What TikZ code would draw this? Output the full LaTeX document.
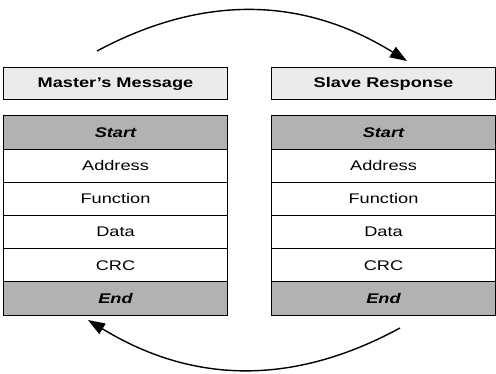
\documentclass[tikz,border=0pt]{standalone}
\usepackage{fontspec}
\setmainfont{Liberation Sans}[FakeStretch=1.3]
\usetikzlibrary{positioning}
\usetikzlibrary{arrows.meta}

\definecolor{headgray}{gray}{0.92}
\definecolor{markgray}{gray}{0.70}

\begin{document}
\begin{tikzpicture}[
    x=1pt, y=1pt,
    head/.style={draw, line width=1pt, fill=headgray, minimum width=224pt, minimum height=32pt, outer sep=0pt, font=\fontsize{14}{16}\selectfont\bfseries},
    field/.style={draw, line width=1pt, fill=white, minimum width=224pt, minimum height=33.2pt, outer sep=0pt, font=\fontsize{14}{16}\selectfont},
    delim/.style={field, fill=markgray, font=\fontsize{14}{16}\selectfont\bfseries\itshape},
    flow/.style={line width=1.4pt, -{Triangle[length=17pt,width=12pt]}}
  ]
    \useasboundingbox (0,0) rectangle (496,374);

    % headers
    \node[head] (mhead) at (115.5,290) {Master’s Message};
    \node[head] (shead) at (383.5,290) {Slave Response};

    % master frame
    \node[delim, below=16pt of mhead] (mstart) {Start};
    \node[field, below=0pt of mstart] (maddr) {Address};
    \node[field, below=0pt of maddr] (mfunc) {Function};
    \node[field, below=0pt of mfunc] (mdata) {Data};
    \node[field, below=0pt of mdata] (mcrc) {CRC};
    \node[delim, below=0pt of mcrc] (mend) {End};

    % slave frame
    \node[delim, below=16pt of shead] (sstart) {Start};
    \node[field, below=0pt of sstart] (saddr) {Address};
    \node[field, below=0pt of saddr] (sfunc) {Function};
    \node[field, below=0pt of sfunc] (sdata) {Data};
    \node[field, below=0pt of sdata] (scrc) {CRC};
    \node[delim, below=0pt of scrc] (send) {End};

    % request / response arcs
    \coordinate (askfrom) at (97,323);
    \coordinate (askto) at (407,313);
    \coordinate (replyfrom) at (400,46);
    \coordinate (replyto) at (88,54);
    \draw[flow] (askfrom) to[bend left=30] (askto);
    \draw[flow] (replyfrom) to[bend left=30] (replyto);
  \end{tikzpicture}
\end{document}
